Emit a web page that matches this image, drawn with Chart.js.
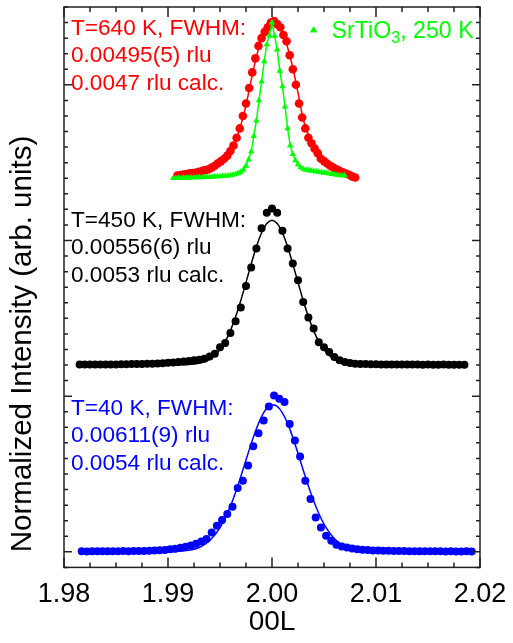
<!DOCTYPE html>
<html>
<head>
<meta charset="utf-8">
<script src="https://cdn.jsdelivr.net/npm/chart.js@4.4.0/dist/chart.umd.min.js"></script>
<style>
  html, body { margin: 0; padding: 0; background: #fff; overflow: hidden; }
  canvas { display: block; }
</style>
</head>
<body>
<canvas id="scan" width="513" height="643"></canvas>
<script>
// (0 0 L) scans, each normalised to its own peak and stacked by OFFSET

const FONT = '"Liberation Sans", Arial, Helvetica, sans-serif';

// T = 40 K
const lBlue = [
  1.9817,1.9822,1.9827,1.9832,1.9837,1.9842,1.9847,1.9852,1.9857,1.9862,
  1.9867,1.9872,1.9877,1.9882,1.9887,1.9892,1.9897,1.9902,1.9907,1.9912,
  1.9917,1.9922,1.9927,1.9932,1.9937,1.9942,1.9947,1.9952,1.9957,1.9962,
  1.9967,1.9972,1.9977,1.9982,1.9987,1.9992,1.9997,2.0002,2.0007,2.0012,
  2.0017,2.0022,2.0027,2.0032,2.0037,2.0042,2.0047,2.0052,2.0057,2.0062,
  2.0067,2.0072,2.0077,2.0082,2.0087,2.0092,2.0097,2.0102,2.0107,2.0112,
  2.0117,2.0122,2.0127,2.0132,2.0137,2.0142,2.0147,2.0152,2.0157,2.0162,
  2.0167,2.0172,2.0177,2.0182,2.0187,2.0192
];
const iBlue = [
  0.003,0.002,0.004,0.003,0.003,0.004,0.003,0.004,0.005,0.004,
  0.005,0.006,0.006,0.007,0.008,0.010,0.012,0.016,0.020,0.026,
  0.032,0.040,0.052,0.066,0.082,0.124,0.167,0.204,0.243,0.290,
  0.410,0.457,0.554,0.678,0.762,0.844,0.934,1.005,0.983,0.962,
  0.822,0.715,0.612,0.457,0.339,0.221,0.157,0.103,0.071,0.045,
  0.034,0.028,0.021,0.017,0.013,0.011,0.009,0.008,0.007,0.007,
  0.006,0.005,0.005,0.004,0.004,0.004,0.003,0.003,0.003,0.003,
  0.002,0.003,0.002,0.002,0.003,0.002
];
const lBlueFit = [
  1.9817,1.9880,1.9900,1.9910,1.9920,1.9930,1.9940,1.9950,1.9960,1.9965,
  1.9970,1.9975,1.9980,1.9985,1.9990,1.9995,2.0001,2.0005,2.0010,2.0015,
  2.0020,2.0025,2.0030,2.0035,2.0040,2.0045,2.0050,2.0060,2.0070,2.0080,
  2.0090,2.0100,2.0120,2.0192
];
const iBlueFit = [
  0,0,0.001,0.003,0.010,0.028,0.071,0.155,0.293,0.383,
  0.484,0.590,0.695,0.791,0.869,0.922,0.945,0.934,0.893,0.825,
  0.735,0.633,0.526,0.423,0.328,0.246,0.178,0.084,0.034,0.012,
  0.004,0.001,0,0
];

// T = 450 K
const lBlack = [
  1.9815,1.9820,1.9825,1.9830,1.9835,1.9840,1.9845,1.9850,1.9855,1.9860,
  1.9865,1.9870,1.9875,1.9880,1.9885,1.9890,1.9895,1.9900,1.9905,1.9910,
  1.9915,1.9920,1.9925,1.9930,1.9935,1.9940,1.9945,1.9950,1.9955,1.9960,
  1.9965,1.9970,1.9975,1.9980,1.9985,1.9990,1.9995,2.0000,2.0005,2.0010,
  2.0015,2.0020,2.0025,2.0030,2.0035,2.0040,2.0045,2.0050,2.0055,2.0060,
  2.0065,2.0070,2.0075,2.0080,2.0085,2.0090,2.0095,2.0100,2.0105,2.0110,
  2.0115,2.0120,2.0125,2.0130,2.0135,2.0140,2.0145,2.0150,2.0155,2.0160,
  2.0165,2.0170,2.0175,2.0180,2.0185
];
const iBlack = [
  0.003,0.003,0.003,0.003,0.003,0.004,0.004,0.004,0.005,0.005,
  0.006,0.006,0.007,0.008,0.009,0.010,0.012,0.015,0.017,0.020,
  0.022,0.026,0.030,0.034,0.040,0.055,0.073,0.115,0.141,0.205,
  0.281,0.369,0.508,0.627,0.749,0.878,0.978,1.006,0.978,0.862,
  0.749,0.652,0.545,0.405,0.305,0.234,0.147,0.115,0.083,0.051,
  0.030,0.020,0.013,0.009,0.007,0.006,0.005,0.005,0.004,0.004,
  0.004,0.003,0.003,0.003,0.003,0.003,0.002,0.003,0.002,0.002,
  0.003,0.002,0.002,0.002,0.002
];
const lBlackFit = [
  1.9815,1.9900,1.9910,1.9920,1.9925,1.9930,1.9935,1.9940,1.9945,1.9950,
  1.9955,1.9960,1.9965,1.9970,1.9975,1.9980,1.9985,1.9990,1.9995,2.0000,
  2.0005,2.0010,2.0015,2.0020,2.0025,2.0030,2.0035,2.0040,2.0045,2.0050,
  2.0055,2.0060,2.0065,2.0070,2.0075,2.0080,2.0090,2.0100,2.0185
];
const iBlackFit = [
  0,0,0.001,0.003,0.006,0.011,0.021,0.037,0.062,0.099,
  0.151,0.221,0.310,0.415,0.531,0.649,0.760,0.850,0.909,0.930,
  0.909,0.850,0.760,0.649,0.531,0.415,0.310,0.221,0.151,0.099,
  0.062,0.037,0.021,0.011,0.006,0.003,0.001,0,0
];

// T = 640 K
const lRed = [
  1.9909,1.9912,1.9915,1.9918,1.9921,1.9924,1.9927,1.9930,1.9933,1.9936,
  1.9939,1.9942,1.9945,1.9948,1.9951,1.9954,1.9957,1.9960,1.9963,1.9966,
  1.9969,1.9972,1.9975,1.9978,1.9981,1.9984,1.9987,1.9990,1.9993,1.9996,
  1.9999,2.0002,2.0005,2.0008,2.0011,2.0014,2.0017,2.0020,2.0023,2.0026,
  2.0029,2.0032,2.0035,2.0038,2.0041,2.0044,2.0047,2.0050,2.0053,2.0056,
  2.0059,2.0062,2.0065,2.0068,2.0071,2.0074,2.0077,2.0080
];
const iRed = [
  0.018,0.021,0.024,0.027,0.031,0.034,0.037,0.042,0.047,0.052,
  0.058,0.068,0.080,0.096,0.110,0.125,0.145,0.175,0.210,0.260,
  0.320,0.400,0.480,0.580,0.680,0.770,0.850,0.900,0.940,0.970,
  1.000,1.010,0.990,0.970,0.920,0.880,0.790,0.700,0.600,0.480,
  0.390,0.320,0.260,0.225,0.190,0.160,0.125,0.110,0.095,0.080,
  0.068,0.058,0.047,0.038,0.030,0.022,0.012,0.005
];
const lRedFit = [
  1.9909,1.9920,1.9930,1.9940,1.9950,1.9955,1.9960,1.9965,1.9970,1.9975,
  1.9980,1.9985,1.9990,1.9995,2.0001,2.0005,2.0010,2.0015,2.0020,2.0025,
  2.0030,2.0035,2.0040,2.0045,2.0050,2.0055,2.0060,2.0065,2.0070,2.0075,
  2.0080
];
const iRedFit = [
  0.018,0.027,0.038,0.058,0.100,0.130,0.175,0.240,0.340,0.470,
  0.630,0.780,0.900,0.975,1.000,0.985,0.935,0.840,0.710,0.550,
  0.380,0.280,0.205,0.155,0.115,0.087,0.065,0.048,0.034,0.020,
  0.008
];

// SrTiO3 reference, 250 K
const lSto = [
  1.99050,1.99075,1.99100,1.99125,1.99150,1.99175,1.99200,1.99225,1.99250,1.99275,
  1.99300,1.99325,1.99350,1.99375,1.99400,1.99425,1.99450,1.99475,1.99500,1.99525,
  1.99550,1.99575,1.99600,1.99625,1.99650,1.99675,1.99700,1.99725,1.99750,1.99775,
  1.99800,1.99825,1.99850,1.99875,1.99900,1.99925,1.99950,1.99975,2.00000,2.00025,
  2.00050,2.00075,2.00100,2.00125,2.00150,2.00175,2.00200,2.00225,2.00250,2.00275,
  2.00300,2.00325,2.00350,2.00375,2.00400,2.00425,2.00450,2.00475,2.00500,2.00525,
  2.00550,2.00575,2.00600,2.00625,2.00650,2.00675,2.00700
];
const iSto = [
  0.000,0.001,0.002,0.002,0.003,0.003,0.004,0.004,0.005,0.005,
  0.006,0.006,0.007,0.007,0.008,0.009,0.010,0.011,0.012,0.013,
  0.014,0.016,0.018,0.021,0.026,0.032,0.041,0.053,0.080,0.120,
  0.170,0.270,0.370,0.500,0.620,0.750,0.860,0.915,1.000,0.915,
  0.826,0.690,0.590,0.460,0.320,0.210,0.155,0.115,0.088,0.070,
  0.060,0.054,0.051,0.048,0.046,0.043,0.041,0.038,0.035,0.032,
  0.030,0.027,0.024,0.021,0.019,0.018,0.017
];

// vertical shift between the three temperatures
const OFFSET = { blue: 0, black: 1.2, red: 2.4 };

const xTickLabels = ['1.98', '1.99', '2.00', '2.01', '2.02'];

const notes = [
  { lines: ['T=640 K, FWHM:', '0.00495(5) rlu', '0.0047 rlu calc.'], color: '#ff0000', y: 3.322 },
  { lines: ['T=450 K, FWHM:', '0.00556(6) rlu', '0.0053 rlu calc.'], color: '#000000', y: 2.088 },
  { lines: ['T=40 K, FWHM:', '0.00611(9) rlu', '0.0054 rlu calc.'], color: '#0000ff', y: 0.882 }
];

function pts(ls, vs, off) {
  return ls.map((l, i) => ({ x: l, y: vs[i] + off }));
}

function scanSet(ls, vs, off, color, r) {
  return {
    data: pts(ls, vs, off),
    showLine: false,
    pointStyle: 'circle',
    pointRadius: r,
    pointBackgroundColor: color,
    pointBorderColor: color,
    pointBorderWidth: 0,
    order: 3
  };
}

function fitSet(ls, vs, off, color) {
  return {
    type: 'line',
    data: pts(ls, vs, off),
    showLine: true,
    borderColor: color,
    borderWidth: 1.5,
    pointRadius: 0,
    cubicInterpolationMode: 'monotone',
    fill: false,
    order: 2
  };
}

// box with inward ticks on all four sides, major/minor
const frameTicks = {
  id: 'frameTicks',
  afterDatasetsDraw(chart) {
    const { ctx, chartArea: a, scales: { x, y } } = chart;
    ctx.save();
    ctx.strokeStyle = '#222';
    ctx.lineWidth = 1.5;
    ctx.beginPath();
    for (let i = 0; i <= 16; i++) {
      const px = x.getPixelForValue(x.min + i * 0.0025);
      const len = i % 4 === 0 ? 10 : 5;
      ctx.moveTo(px, a.bottom); ctx.lineTo(px, a.bottom - len);
      ctx.moveTo(px, a.top); ctx.lineTo(px, a.top + len);
    }
    for (let i = 0; i <= 36; i++) {
      const py = y.getPixelForValue(y.min + i * 0.1);
      const len = (i - 1) % 10 === 0 ? 8 : 4;
      ctx.moveTo(a.left, py); ctx.lineTo(a.left + len, py);
      ctx.moveTo(a.right, py); ctx.lineTo(a.right - len, py);
    }
    ctx.stroke();
    ctx.strokeRect(a.left, a.top, a.right - a.left, a.bottom - a.top);
    ctx.restore();
  }
};

const labels = {
  id: 'labels',
  afterDraw(chart) {
    const { ctx, chartArea: a, scales: { x, y } } = chart;
    ctx.save();
    ctx.textAlign = 'left';
    ctx.textBaseline = 'alphabetic';
    ctx.font = '22.6px ' + FONT;
    notes.forEach(n => {
      ctx.fillStyle = n.color;
      const y0 = y.getPixelForValue(n.y);
      n.lines.forEach((t, i) => ctx.fillText(t, a.left + 7, y0 + i * 27.5));
    });

    // SrTiO3 key
    const kx = x.getPixelForValue(2.0040);
    const ky = y.getPixelForValue(3.35);
    ctx.fillStyle = '#00ff00';
    Chart.helpers.drawPoint(ctx, { pointStyle: 'triangle', radius: 4, borderWidth: 0 }, kx, ky);
    ctx.fill();
    ctx.font = '23.2px ' + FONT;
    let tx = kx + 18;
    const tb = ky + 8;
    ctx.fillText('SrTiO', tx, tb);
    tx += ctx.measureText('SrTiO').width;
    ctx.font = '16px ' + FONT;
    ctx.fillText('3', tx, tb + 5);
    tx += ctx.measureText('3').width;
    ctx.font = '23.2px ' + FONT;
    ctx.fillText(', 250 K', tx, tb);

    // y axis title
    ctx.translate(23, 344);
    ctx.rotate(-Math.PI / 2);
    ctx.textAlign = 'center';
    ctx.textBaseline = 'middle';
    ctx.fillStyle = '#000';
    ctx.font = '29.5px ' + FONT;
    ctx.fillText('Normalized Intensity (arb. units)', 0, 0);
    ctx.restore();
  }
};

new Chart(document.getElementById('scan'), {
  type: 'scatter',
  data: {
    datasets: [
      {
        data: pts(lSto, iSto, OFFSET.red),
        showLine: true,
        borderColor: '#00ff00',
        borderWidth: 1.5,
        pointStyle: 'triangle',
        pointRadius: 3.7,
        pointBackgroundColor: '#00ff00',
        pointBorderColor: '#00ff00',
        pointBorderWidth: 0,
        order: 1
      },
      fitSet(lRedFit, iRedFit, OFFSET.red, '#ff0000'),
      fitSet(lBlackFit, iBlackFit, OFFSET.black, '#000000'),
      fitSet(lBlueFit, iBlueFit, OFFSET.blue, '#0000ff'),
      scanSet(lRed, iRed, OFFSET.red, '#ff0000', 4.3),
      scanSet(lBlack, iBlack, OFFSET.black, '#000000', 4),
      scanSet(lBlue, iBlue, OFFSET.blue, '#0000ff', 4)
    ]
  },
  options: {
    responsive: false,
    animation: false,
    events: [],
    devicePixelRatio: 1,
    layout: { padding: { left: 64, right: 33, top: 7, bottom: 8 } },
    plugins: { legend: { display: false }, tooltip: { enabled: false } },
    scales: {
      x: {
        type: 'linear',
        min: 1.98,
        max: 2.02,
        grid: { display: false, drawTicks: false },
        border: { display: false },
        ticks: {
          stepSize: 0.01,
          autoSkip: false,
          maxRotation: 0,
          padding: 0,
          color: '#000',
          // tall line box drops the labels below the frame
          font: { family: FONT, size: 27, lineHeight: 55 / 27 },
          callback: (v, i) => xTickLabels[i]
        },
        title: {
          display: true,
          text: '00L',
          color: '#000',
          font: { family: FONT, size: 28, lineHeight: 0.9 },
          padding: { top: -12.6, bottom: 0 }
        }
      },
      y: {
        display: false,
        min: -0.1,
        max: 3.5
      }
    }
  },
  plugins: [frameTicks, labels]
});
</script>
</body>
</html>
